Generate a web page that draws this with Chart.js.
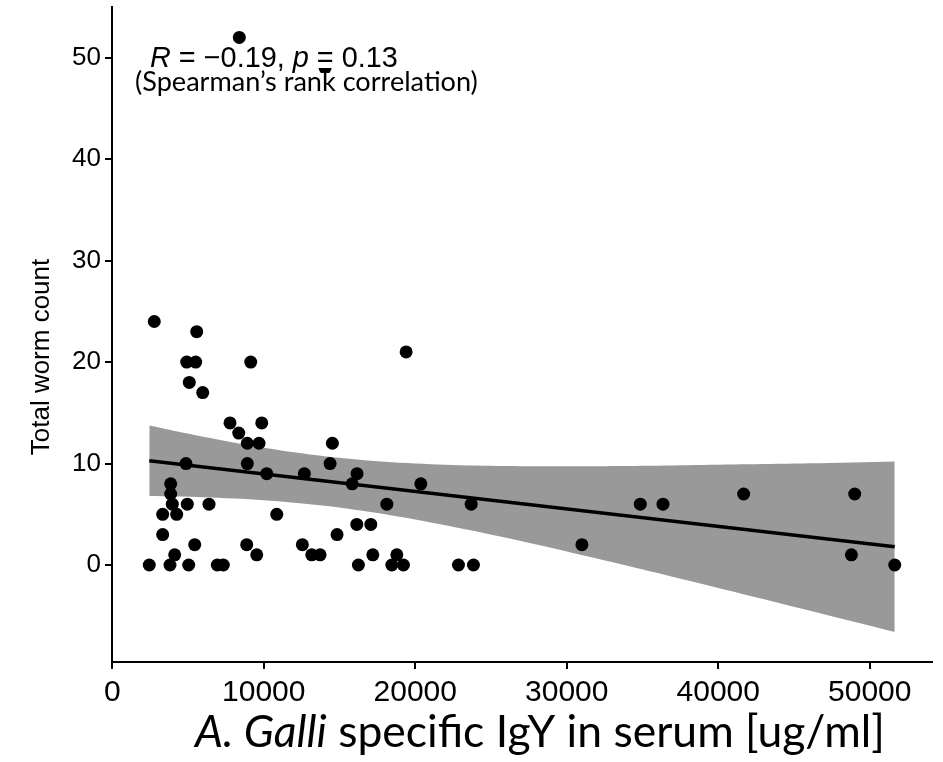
<!DOCTYPE html>
<html>
<head>
<meta charset="utf-8">
<script src="https://cdn.jsdelivr.net/npm/chart.js@4.4.1/dist/chart.umd.min.js"></script>
<style>
  body { margin: 0; background: #fff; }
  #wrap { width: 943px; height: 762px; }
</style>
</head>
<body>
<div id="wrap"><canvas id="wormChart" width="943" height="762"></canvas></div>
<script>
// IgY (ug/ml) vs total worm count, one entry per bird
const igyValues = [8388, 14050, 2774, 5575, 4914, 5509, 9141, 19399, 5086, 5971,
    7774, 9868, 8349, 8917, 9690, 14531, 4868, 8917, 14379, 10198,
    12682, 16160, 3857, 15840, 20370, 3857, 41678, 49009, 3963, 4954,
    6387, 18124, 23692, 34855, 36354, 3329, 4254, 10859, 16142, 17067,
    3329, 14840, 5443, 8877, 12550, 31004, 4121, 9538, 13170, 13719,
    17199, 18785, 48791, 2444, 3811, 5046, 6935, 7332, 16248, 18454,
    19220, 22853, 23844, 51651];
const wormCounts = [52, 49, 24, 23, 20, 20, 20, 21, 18, 17,
    14, 14, 13, 12, 12, 12, 10, 10, 10, 9,
    9, 9, 8, 8, 8, 7, 7, 7, 6, 6,
    6, 6, 6, 6, 6, 5, 5, 5, 4, 4,
    3, 3, 2, 2, 2, 2, 1, 1, 1, 1,
    1, 1, 1, 0, 0, 0, 0, 0, 0, 0,
    0, 0, 0, 0];

// regression line and its confidence band
const fitX = [2444, 51651];
const fitY = [10.27, 1.80];
const bandX = [2444, 6000, 10000, 14000, 18000, 22000, 26000, 30000, 34000, 38000, 42000, 46000, 51651];
const bandUpper = [13.75, 12.65, 11.56, 10.73, 10.18, 9.89, 9.76, 9.73, 9.76, 9.83, 9.92, 10.02, 10.20];
const bandLower = [6.79, 6.67, 6.38, 5.83, 5.00, 3.91, 2.68, 1.33, -0.08, -1.53, -3.00, -4.48, -6.60];

const xTicks = [0, 10000, 20000, 30000, 40000, 50000];
const yTicks = [0, 10, 20, 30, 40, 50];

const tickFont = "'Liberation Sans', Arial, sans-serif";
const gothicFont = "Lato, 'Open Sans', sans-serif";

function toPoints(xs, ys) {
    return xs.map((x, i) => ({ x: x, y: ys[i] }));
}

// size a run of text pieces so the whole line fills a given width
function fitSize(ctx, runs, family, width) {
    let total = 0;
    runs.forEach(r => {
        ctx.font = (r.italic ? 'italic ' : '') + '100px ' + family;
        total += ctx.measureText(r.text).width;
    });
    return 100 * width / total;
}

function drawRuns(ctx, runs, family, x, y, width) {
    const size = fitSize(ctx, runs, family, width);
    let cx = x;
    runs.forEach(r => {
        ctx.font = (r.italic ? 'italic ' : '') + size + 'px ' + family;
        ctx.fillText(r.text, cx, y);
        cx += ctx.measureText(r.text).width;
    });
}

const textPlugin = {
    id: 'textPlugin',
    afterDatasetsDraw(chart) {
        const ctx = chart.ctx;
        ctx.save();
        ctx.textBaseline = 'alphabetic';
        ctx.textAlign = 'left';

        // correlation label sits on white boxes, as pasted in the original
        ctx.fillStyle = '#fff';
        ctx.fillRect(145, 45, 262, 23);
        ctx.fillStyle = '#000';
        drawRuns(ctx, [
            { text: 'R', italic: true },
            { text: ' = \u22120.19, ' },
            { text: 'p', italic: true },
            { text: ' = 0.13' }
        ], tickFont, 150, 67, 248);
        ctx.fillStyle = '#fff';
        ctx.fillRect(130, 73, 352, 25);
        ctx.fillStyle = '#000';
        drawRuns(ctx, [{ text: '(Spearman\u2019s rank correlation)' }], gothicFont, 135, 91, 343);

        drawRuns(ctx, [
            { text: 'A. Galli', italic: true },
            { text: ' specific IgY in serum [ug/ml]' }
        ], gothicFont, 195, 747, 690);

        ctx.translate(49, 357);
        ctx.rotate(-Math.PI / 2);
        ctx.textAlign = 'center';
        ctx.font = '26px ' + tickFont;
        ctx.fillText('Total worm count', 0, 0);
        ctx.restore();
    }
};

const ctx = document.getElementById('wormChart').getContext('2d');
new Chart(ctx, {
    type: 'scatter',
    data: {
        datasets: [
            {
                label: 'points',
                data: toPoints(igyValues, wormCounts),
                backgroundColor: '#000',
                borderColor: '#000',
                pointRadius: 6.5,
                pointBorderWidth: 0,
                order: 0
            },
            {
                label: 'fit',
                data: toPoints(fitX, fitY),
                showLine: true,
                borderColor: '#000',
                borderWidth: 3.5,
                pointRadius: 0,
                order: 1
            },
            {
                label: 'upper',
                data: toPoints(bandX, bandUpper),
                showLine: true,
                borderWidth: 0,
                borderColor: 'rgba(0,0,0,0)',
                backgroundColor: '#999999',
                pointRadius: 0,
                tension: 0.3,
                fill: '+1',
                order: 2
            },
            {
                label: 'lower',
                data: toPoints(bandX, bandLower),
                showLine: true,
                borderWidth: 0,
                borderColor: 'rgba(0,0,0,0)',
                pointRadius: 0,
                tension: 0.3,
                fill: false,
                order: 3
            }
        ]
    },
    options: {
        responsive: false,
        animation: false,
        layout: { padding: { top: 7, right: 11, left: 0, bottom: 0 } },
        plugins: {
            legend: { display: false },
            tooltip: { enabled: false }
        },
        scales: {
            x: {
                type: 'linear',
                min: -16,
                max: 54111,
                border: { display: true, color: '#000', width: 2 },
                grid: { drawOnChartArea: false, drawTicks: true, tickLength: 7, color: '#000', lineWidth: 2 },
                ticks: {
                    color: '#000',
                    font: { family: tickFont, size: 30 },
                    padding: 6,
                    maxRotation: 0,
                    autoSkip: false,
                    callback: v => String(v)
                },
                afterBuildTicks: scale => { scale.ticks = xTicks.map(v => ({ value: v })); },
                afterFit: scale => {
                    scale.height = 100;
                    scale.paddingLeft = 0;
                    scale.paddingRight = 0;
                }
            },
            y: {
                type: 'linear',
                min: -9.56,
                max: 55,
                border: { display: true, color: '#000', width: 2 },
                grid: { drawOnChartArea: false, drawTicks: true, tickLength: 7, color: '#000', lineWidth: 2 },
                ticks: {
                    color: '#000',
                    font: { family: tickFont, size: 26 },
                    padding: 4,
                    autoSkip: false,
                    callback: v => String(v)
                },
                afterBuildTicks: scale => { scale.ticks = yTicks.map(v => ({ value: v })); },
                afterFit: scale => {
                    scale.width = 112;
                    scale.paddingTop = 0;
                    scale.paddingBottom = 0;
                }
            }
        }
    },
    plugins: [textPlugin]
});
</script>
</body>
</html>
